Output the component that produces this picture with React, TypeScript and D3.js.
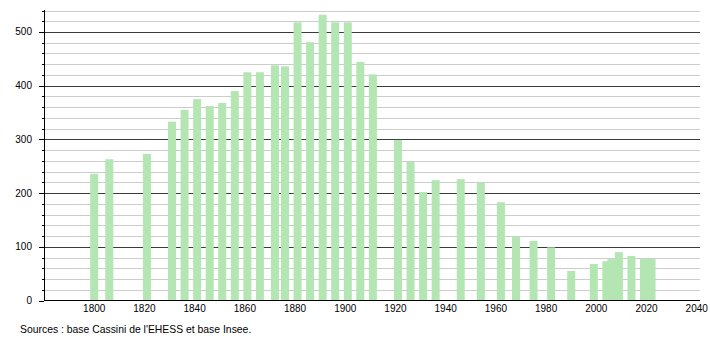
import React from "react";
import * as d3 from "d3";

const years = [1800, 1806, 1821, 1831, 1836, 1841, 1846, 1851, 1856, 1861, 1866, 1872, 1876, 1881, 1886, 1891, 1896, 1901, 1906, 1911, 1921, 1926, 1931, 1936, 1946, 1954, 1962, 1968, 1975, 1982, 1990, 1999, 2004, 2006, 2009, 2014, 2019, 2022];
const population = [236, 263, 273, 333, 355, 375, 362, 368, 390, 425, 425, 438, 436, 518, 481, 532, 518, 518, 444, 421, 299, 258, 202, 224, 226, 220, 183, 119, 111, 99, 55, 68, 73, 77, 90, 83, 78, 78];
const xTickLabels = [1800, 1820, 1840, 1860, 1880, 1900, 1920, 1940, 1960, 1980, 2000, 2020, 2040];
const yMajorTicks = [0, 100, 200, 300, 400, 500];
const sourceText = "Sources : base Cassini de l'EHESS et base Insee.";

const W = 710;
const H = 340;
const FONT = "'Liberation Sans', Arial, Helvetica, sans-serif";

export default function App() {
  const x = d3.scaleLinear().domain([1780, 2041.3]).range([44, 700]);
  const y = d3.scaleLinear().domain([0, 540]).range([300.5, 10.5]);
  const minorTicks = d3.range(0, 541, 20);
  const barW = 8;

  return (
    <svg
      width={W}
      height={H}
      style={{ position: "absolute", left: 0, top: 0, background: "#fff" }}
      fontFamily={FONT}
    >
      <rect x={0} y={0} width={W} height={H} fill="#fff" />
      {minorTicks.map((t) =>
        t === 0 ? null : (
          <line
            key={"g" + t}
            x1={44}
            x2={700}
            y1={Math.round(y(t)) + 0.5}
            y2={Math.round(y(t)) + 0.5}
            stroke={t % 100 === 0 ? "#3a3a3a" : "#cccccc"}
            strokeWidth={1}
          />
        )
      )}
      {years.map((yr, i) => (
        <rect
          key={yr}
          x={x(yr) - barW / 2}
          y={y(population[i])}
          width={barW}
          height={y(0) - y(population[i])}
          fill="#b3e6b3"
        />
      ))}
      <line x1={44.5} x2={44.5} y1={10} y2={301} stroke="#000" strokeWidth={1} />
      <line x1={44} x2={700} y1={300.5} y2={300.5} stroke="#000" strokeWidth={1} />
      {minorTicks.map((t) => (
        <line
          key={"t" + t}
          x1={t % 100 === 0 ? 39 : 42}
          x2={44}
          y1={Math.round(y(t)) + 0.5}
          y2={Math.round(y(t)) + 0.5}
          stroke="#000"
          strokeWidth={1}
        />
      ))}
      {yMajorTicks.map((t) => (
        <text
          key={"yl" + t}
          x={32}
          y={y(t)}
          dy="0.35em"
          textAnchor="end"
          fontSize={10}
          fill="#000"
        >
          {t}
        </text>
      ))}
      {xTickLabels.map((t) => (
        <text
          key={"xl" + t}
          x={x(t)}
          y={312}
          textAnchor="middle"
          fontSize={10}
          fill="#000"
        >
          {t}
        </text>
      ))}
      <text x={20} y={333} fontSize={10.4} fill="#000">
        {sourceText}
      </text>
    </svg>
  );
}
